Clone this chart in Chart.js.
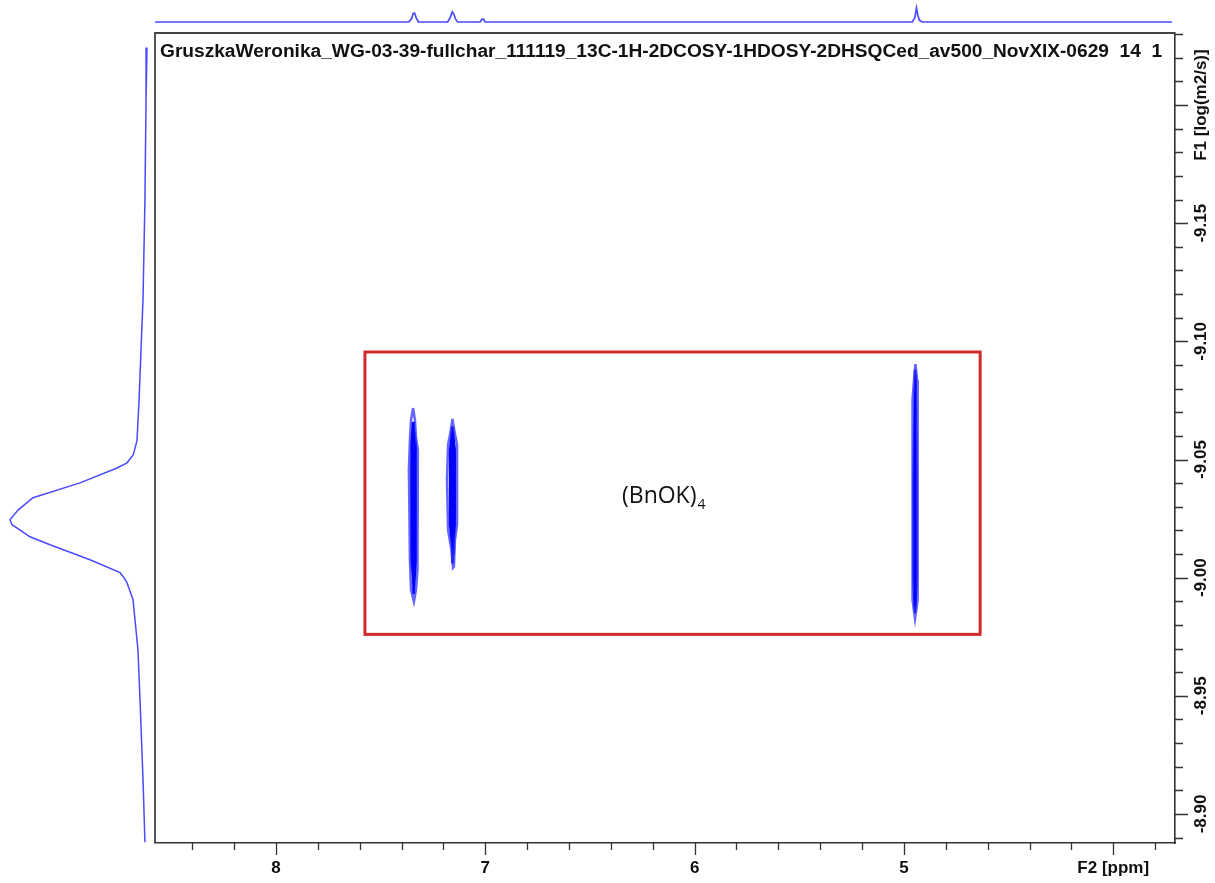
<!DOCTYPE html>
<html><head><meta charset="utf-8">
<script src="https://cdn.jsdelivr.net/npm/chart.js@4.4.1/dist/chart.umd.min.js"></script>
<style>
html,body{margin:0;padding:0;background:#fff;}
#wrap{position:relative;width:1215px;height:883px;overflow:hidden;background:#fff;}
canvas{position:absolute;}
</style></head><body>
<div id="wrap">
<canvas id="main" width="1215" height="883" style="left:0;top:0"></canvas>
<canvas id="top" width="1020" height="30" style="left:155px;top:0"></canvas>
<canvas id="left" width="155" height="810" style="left:0;top:33px"></canvas>
</div>
<script>
// ---------- data ----------
const titleText = "GruszkaWeronika_WG-03-39-fullchar_111119_13C-1H-2DCOSY-1HDOSY-2DHSQCed_av500_NovXIX-0629  14  1";
const xLabelF2 = "F2 [ppm]";
const yLabelF1 = "F1 [log(m2/s)]";
const xMajorTicks = [8, 7, 6, 5, 4];
const xMinorTicks = [8.4, 8.2, 7.8, 7.6, 7.4, 7.2, 6.8, 6.6, 6.4, 6.2, 5.8, 5.6, 5.4, 5.2, 4.8, 4.6, 4.4, 4.2, 3.8];
const yMajorTicks = [-9.20, -9.15, -9.10, -9.05, -9.00, -8.95, -8.90];
const yMinorTicks = [-9.23, -9.22, -9.21, -9.19, -9.18, -9.17, -9.16, -9.14, -9.13, -9.12, -9.11,
  -9.09, -9.08, -9.07, -9.06, -9.04, -9.03, -9.02, -9.01, -8.99, -8.98, -8.97, -8.96,
  -8.94, -8.93, -8.92, -8.91, -8.89];

// 1H projection (top): chemical shift (ppm) and relative intensity
const topProjPpm = [8.578, 7.365, 7.352, 7.345, 7.338, 7.330, 7.320, 7.180, 7.168, 7.158, 7.150, 7.142, 7.132,
  7.025, 7.016, 7.010, 7.001, 4.960, 4.948, 4.940, 4.934, 4.926, 4.912, 3.720];
const topProjInt = [0, 0, 0.25, 0.60, 0.64, 0.30, 0, 0, 0.30, 0.72, 0.55, 0.20, 0,
  0, 0.20, 0.22, 0, 0, 0.30, 1.0, 0.50, 0.12, 0, 0];

// DOSY projection (left): log D and relative intensity
const leftProjLogD = [-9.2244, -9.202, -9.160, -9.118, -9.075, -9.058, -9.052, -9.0486, -9.0464, -9.0401,
  -9.0338, -9.0287, -9.0245, -9.0224, -9.0173, -9.0139, -9.0076, -9.0021, -9.0000, -8.9978, -8.9907,
  -8.9695, -8.9484, -8.9146, -8.8880];
const leftProjInt = [0.0, 0.007, 0.015, 0.029, 0.058, 0.073, 0.10, 0.146, 0.219, 0.489,
  0.832, 0.94, 1.0, 0.985, 0.854, 0.708, 0.416, 0.197, 0.168, 0.146, 0.102,
  0.066, 0.051, 0.029, 0.015];

// 2D DOSY contours: closed outlines (ppm, log D), outer level, inner level and core for each signal
const peakA_outer_ppm  = [7.345, 7.336, 7.331, 7.322, 7.322, 7.326, 7.331, 7.341, 7.355, 7.360, 7.365, 7.360, 7.355, 7.345];
const peakA_outer_logD = [-9.0718, -9.0667, -9.0591, -9.0541, -9.0160, -9.0033, -8.9949, -8.9898, -8.9949, -9.0076, -9.0456, -9.0583, -9.0667, -9.0718];
const peakA_inner_ppm  = [7.345, 7.333, 7.333, 7.341, 7.352, 7.352, 7.345];
const peakA_inner_logD = [-9.0646, -9.0562, -9.0076, -8.9970, -9.0076, -9.0562, -9.0646];
const peakA_core_ppm   = [7.344, 7.342];
const peakA_core_logD  = [-9.066, -8.993];

const peakB_outer_ppm  = [7.157, 7.147, 7.135, 7.135, 7.145, 7.150, 7.154, 7.162, 7.178, 7.183, 7.178, 7.166, 7.157];
const peakB_outer_logD = [-9.0672, -9.0617, -9.0562, -9.0224, -9.0160, -9.0046, -9.0042, -9.0118, -9.0203, -9.0414, -9.0562, -9.0617, -9.0672];
const peakB_inner_ppm  = [7.157, 7.147, 7.147, 7.154, 7.167, 7.167, 7.157];
const peakB_inner_logD = [-9.0625, -9.0541, -9.0224, -9.0097, -9.0224, -9.0541, -9.0625];
const peakB_core_ppm   = [7.158, 7.156];
const peakB_core_logD  = [-9.064, -9.006];

const peakC_outer_ppm  = [4.945, 4.937, 4.933, 4.933, 4.937, 4.947, 4.959, 4.961, 4.957, 4.952, 4.945];
const peakC_outer_logD = [-9.0904, -9.0836, -9.0414, -9.0076, -8.9907, -8.9826, -8.9907, -9.0414, -9.0752, -9.0836, -9.0904];
const peakC_inner_ppm  = [4.945, 4.941, 4.941, 4.947, 4.953, 4.953, 4.945];
const peakC_inner_logD = [-9.0858, -9.0414, -8.9991, -8.9864, -8.9991, -9.0414, -9.0858];
const peakC_core_ppm   = [4.946, 4.947];
const peakC_core_logD  = [-9.088, -8.985];

// highlighted region and label
const boxPpm  = [7.575, 4.636];
const boxLogD = [-9.0955, -8.976];
const labelMain = "(BnOK)";
const labelSub = "4";
const labelPos = [6.347, -9.0342];

// axis ranges
const xRange = [3.705, 8.578];
const yRange = [-9.2305, -8.8877];

// ---------- helpers ----------
const pts = (xs, ys) => xs.map((v, i) => ({x: v, y: ys[i]}));
const FONT = '"Liberation Sans", Arial, sans-serif';
const outerColor = 'rgba(50,50,255,0.75)';
const innerColor = '#0000ff';

function contour(xs, ys, color, width) {
  return {data: pts(xs, ys), borderColor: color, borderWidth: width, pointRadius: 0, tension: 0, fill: false};
}

const deco = {
  id: 'deco',
  afterDraw(chart) {
    const {ctx, chartArea: a, scales: {x, y}} = chart;
    ctx.save();
    // frame top & left
    ctx.strokeStyle = '#444';
    ctx.lineWidth = 1.8;
    ctx.beginPath();
    ctx.moveTo(a.left, a.bottom);
    ctx.lineTo(a.left, a.top);
    ctx.lineTo(a.right, a.top);
    ctx.stroke();
    // tick marks
    ctx.strokeStyle = '#333';
    ctx.lineWidth = 1.3;
    ctx.beginPath();
    xMajorTicks.forEach(v => { const p = Math.round(x.getPixelForValue(v)) + 0.5; ctx.moveTo(p, a.bottom); ctx.lineTo(p, a.bottom + 12); });
    xMinorTicks.forEach(v => { const p = Math.round(x.getPixelForValue(v)) + 0.5; ctx.moveTo(p, a.bottom); ctx.lineTo(p, a.bottom + 7); });
    yMajorTicks.forEach(v => { const p = Math.round(y.getPixelForValue(v)) + 0.5; ctx.moveTo(a.right, p); ctx.lineTo(a.right + 13, p); });
    yMinorTicks.forEach(v => { const p = Math.round(y.getPixelForValue(v)) + 0.5; ctx.moveTo(a.right, p); ctx.lineTo(a.right + 8, p); });
    ctx.stroke();
    // y tick labels (rotated)
    ctx.fillStyle = '#111';
    ctx.font = 'bold 17px ' + FONT;
    ctx.textAlign = 'center';
    ctx.textBaseline = 'middle';
    yMajorTicks.forEach(v => {
      const p = y.getPixelForValue(v);
      const t = (Math.abs(v + 9.20) < 1e-6) ? yLabelF1 : v.toFixed(2);
      ctx.save();
      ctx.translate(a.right + 26, p);
      ctx.rotate(-Math.PI / 2);
      ctx.fillText(t, 0, 0);
      ctx.restore();
    });
    // title
    ctx.font = 'bold 100px ' + FONT;
    const w = ctx.measureText(titleText).width;
    const fs = 100 * 1003 / w;
    ctx.font = 'bold ' + fs.toFixed(2) + 'px ' + FONT;
    ctx.textAlign = 'left';
    ctx.fillText(titleText, a.left + 5, a.top + 19);
    // red box
    const bx1 = x.getPixelForValue(boxPpm[0]), bx2 = x.getPixelForValue(boxPpm[1]);
    const by1 = y.getPixelForValue(boxLogD[0]), by2 = y.getPixelForValue(boxLogD[1]);
    ctx.strokeStyle = '#d02a2a';
    ctx.lineWidth = 3;
    ctx.strokeRect(bx1, by1, bx2 - bx1, by2 - by1);
    // compound label
    const lx = x.getPixelForValue(labelPos[0]), ly = y.getPixelForValue(labelPos[1]);
    ctx.fillStyle = '#111';
    ctx.font = '23px "Open Sans", "Noto Sans", sans-serif';
    ctx.textBaseline = 'middle';
    ctx.fillText(labelMain, lx, ly);
    const lw = ctx.measureText(labelMain).width;
    ctx.font = '14px "Open Sans", "Noto Sans", sans-serif';
    ctx.fillText(labelSub, lx + lw + 1, ly + 8);
    ctx.restore();
  }
};

new Chart(document.getElementById('main'), {
  type: 'line',
  data: {
    datasets: [
      contour(peakA_outer_ppm, peakA_outer_logD, outerColor, 2.5),
      contour(peakA_inner_ppm, peakA_inner_logD, innerColor, 3),
      contour(peakA_core_ppm, peakA_core_logD, innerColor, 3),
      contour(peakB_outer_ppm, peakB_outer_logD, outerColor, 2.5),
      contour(peakB_inner_ppm, peakB_inner_logD, innerColor, 3),
      contour(peakB_core_ppm, peakB_core_logD, innerColor, 3),
      contour(peakC_outer_ppm, peakC_outer_logD, outerColor, 2.5),
      contour(peakC_inner_ppm, peakC_inner_logD, innerColor, 3),
      contour(peakC_core_ppm, peakC_core_logD, innerColor, 2.5)
    ]
  },
  options: {
    responsive: false, devicePixelRatio: 1, animation: false, events: [],
    layout: {padding: {left: 155, top: 33, right: 0, bottom: 0}},
    plugins: {legend: {display: false}, tooltip: {enabled: false}},
    scales: {
      x: {
        type: 'linear', position: 'bottom', reverse: true, min: xRange[0], max: xRange[1],
        afterBuildTicks: s => { s.ticks = xMajorTicks.map(v => ({value: v})); },
        afterFit: s => { s.height = 40; },
        grid: {drawOnChartArea: false, drawTicks: true, tickLength: 12, color: 'rgba(0,0,0,0)'},
        border: {display: true, color: '#333', width: 1.6},
        ticks: {
          padding: 3, autoSkip: false, maxRotation: 0, minRotation: 0, color: '#111',
          font: {family: FONT, weight: 'bold', size: 17},
          callback: v => (v === 4 ? xLabelF2 : String(v))
        }
      },
      y: {
        type: 'linear', position: 'right', reverse: true, min: yRange[0], max: yRange[1],
        afterFit: s => { s.width = 40; },
        grid: {drawOnChartArea: false, drawTicks: false, color: 'rgba(0,0,0,0)'},
        border: {display: true, color: '#333', width: 1.6},
        ticks: {display: false}
      }
    }
  },
  plugins: [deco]
});

new Chart(document.getElementById('top'), {
  type: 'line',
  data: {datasets: [{data: pts(topProjPpm, topProjInt), borderColor: '#4a4aff', borderWidth: 1.7, pointRadius: 0, tension: 0}]},
  options: {
    responsive: false, devicePixelRatio: 1, animation: false, events: [],
    layout: {padding: 0},
    plugins: {legend: {display: false}, tooltip: {enabled: false}},
    scales: {
      x: {type: 'linear', reverse: true, min: xRange[0], max: xRange[1], display: false},
      y: {type: 'linear', min: -0.571, max: 1.571, display: false}
    }
  }
});

new Chart(document.getElementById('left'), {
  type: 'line',
  data: {datasets: [{data: pts(leftProjInt, leftProjLogD), borderColor: '#4a4aff', borderWidth: 1.5, pointRadius: 0, tension: 0, indexAxis: 'y'}]},
  options: {
    responsive: false, devicePixelRatio: 1, animation: false, events: [],
    layout: {padding: 0},
    plugins: {legend: {display: false}, tooltip: {enabled: false}},
    scales: {
      x: {type: 'linear', reverse: true, min: -0.0584, max: 1.073, display: false},
      y: {type: 'linear', reverse: true, min: yRange[0], max: yRange[1], display: false}
    }
  }
});
</script>
</body></html>
